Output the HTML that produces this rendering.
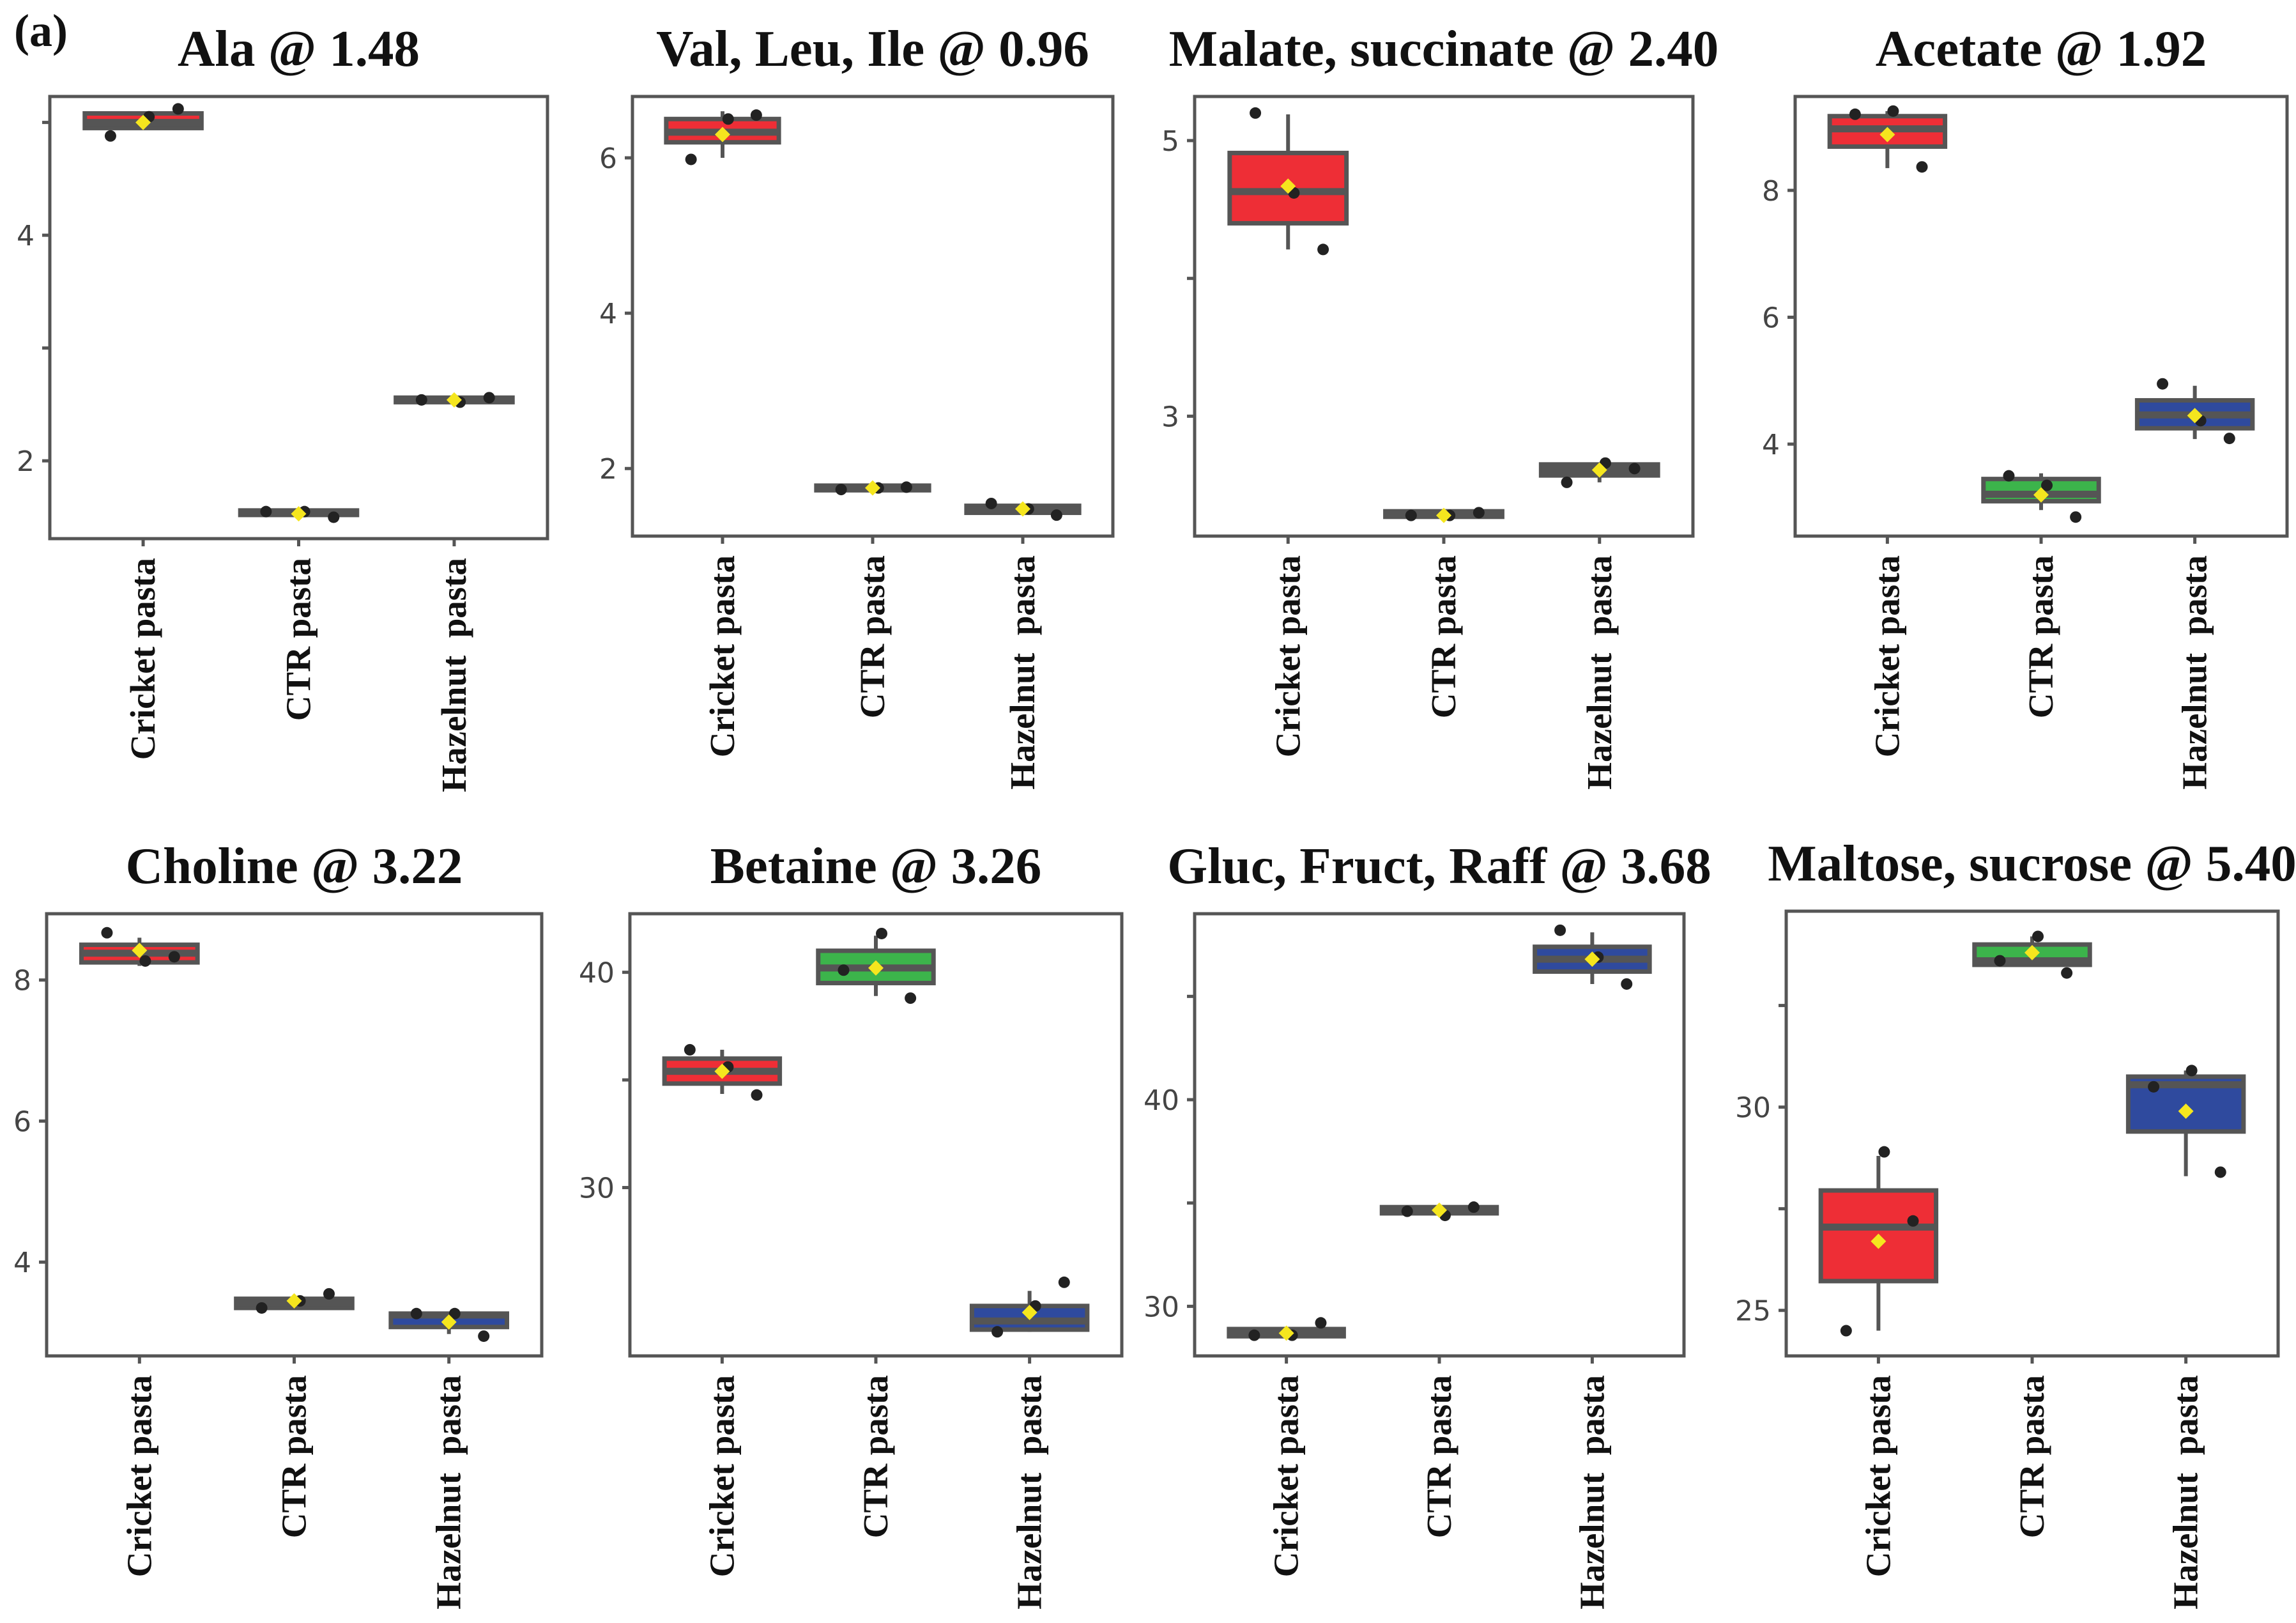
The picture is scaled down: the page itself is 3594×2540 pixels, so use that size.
<!DOCTYPE html>
<html><head><meta charset="utf-8"><style>
html,body{margin:0;padding:0;background:#fff;}
svg{display:block;}
</style></head><body>
<svg id="fig" xmlns="http://www.w3.org/2000/svg" width="3594" height="2540" viewBox="0 0 3594 2540">
<rect x="0" y="0" width="3594" height="2540" fill="#fff"/>
<text x="22" y="72" font-family="Liberation Serif, serif" font-weight="bold" font-size="72" fill="#111">(a)</text>
</svg>
<script>
const categories = ["Cricket pasta", "CTR pasta", "Hazelnut\u00a0 pasta"];
const titles = ["Ala @ 1.48","Val, Leu, Ile @ 0.96","Malate, succinate @ 2.40","Acetate @ 1.92","Choline @ 3.22","Betaine @ 3.26","Gluc, Fruct, Raff @ 3.68","Maltose, sucrose @ 5.40"];
const yDomains = [[1.31,5.23],[1.13,6.79],[2.13,5.32],[2.55,9.48],[2.67,8.94],[22.18,42.72],[27.6,49.0],[23.88,34.82]];
const tickValues = [[2,3,4,5],[2,4,6],[3,4,5],[4,6,8],[4,6,8],[30,35,40],[30,35,40,45],[25,27.5,30,32.5]];
const tickLabels = [["2","","4",""],["2","4","6"],["3","","5"],["4","6","8"],["4","6","8"],["30","","40"],["30","","40",""],["25","","30",""]];
// per panel, per category: [whiskerLow, q1, median, q3, whiskerHigh]
const boxStats = [
 [[4.95,4.95,5.0,5.08,5.08],[1.52,1.52,1.54,1.56,1.56],[2.52,2.52,2.54,2.56,2.56]],
 [[6.0,6.2,6.33,6.5,6.6],[1.72,1.72,1.75,1.78,1.78],[1.43,1.43,1.47,1.52,1.52]],
 [[4.21,4.40,4.63,4.91,5.19],[2.27,2.27,2.29,2.31,2.31],[2.52,2.57,2.61,2.65,2.65]],
 [[8.35,8.69,8.97,9.17,9.25],[2.96,3.10,3.21,3.45,3.54],[4.08,4.25,4.46,4.69,4.92]],
 [[8.2,8.25,8.38,8.5,8.6],[3.35,3.35,3.42,3.48,3.48],[2.98,3.08,3.25,3.27,3.27]],
 [[34.35,34.83,35.4,35.99,36.4],[38.9,39.5,40.2,41.0,41.7],[23.3,23.4,23.8,24.5,25.2]],
 [[28.55,28.55,28.7,28.9,28.9],[34.5,34.5,34.65,34.8,34.8],[45.6,46.2,46.8,47.4,48.1]],
 [[24.5,25.72,27.05,27.95,28.8],[33.5,33.5,33.6,34.0,34.2],[28.3,29.4,30.55,30.75,30.9]]
];
const meanValues = [
 [5.0,1.53,2.54],[6.3,1.75,1.48],[4.67,2.28,2.61],[8.88,3.2,4.45],
 [8.42,3.45,3.15],[35.4,40.2,24.2],[28.7,34.65,46.8],[26.7,33.8,29.9]
];
const pointValues = [
 [[4.88,5.05,5.12],[1.55,1.55,1.50],[2.54,2.52,2.56]],
 [[5.98,6.5,6.55],[1.73,1.75,1.76],[1.55,1.48,1.40]],
 [[5.2,4.62,4.21],[2.28,2.28,2.30],[2.52,2.66,2.62]],
 [[9.2,9.25,8.37],[3.5,3.35,2.85],[4.95,4.37,4.09]],
 [[8.67,8.27,8.33],[3.35,3.45,3.55],[3.27,3.27,2.95]],
 [[36.4,35.6,34.3],[40.1,41.8,38.8],[23.3,24.5,25.6]],
 [[28.6,28.6,29.2],[34.6,34.4,34.8],[48.2,46.9,45.6]],
 [[24.5,28.9,27.2],[33.6,34.2,33.3],[30.5,30.9,28.4]]
];
const fillColors = ["#ee2e36","#3cb44b","#2f4a9e"];
const panelFrames = [
 [78,151,857,843],[990,151,1742,839],[1870,151,2650,839],[2810,151,3580,839],
 [73,1430,848,2122],[986,1430,1756,2122],[1870,1430,2636,2122],[2796,1426,3566,2122]
];
const jitter = [-0.28,0.05,0.3];
const NS = "http://www.w3.org/2000/svg";
const svg = document.getElementById('fig');
function mk(tag, attrs, parent){ const e=document.createElementNS(NS,tag); for(const k in attrs) e.setAttribute(k,attrs[k]); (parent||svg).appendChild(e); return e; }
panelFrames.forEach((f,p)=>{
  const [x1,y1,x2,y2]=f;
  const g = mk('g',{});
  
  
  const [d0,d1]=yDomains[p];
  const ys = v => y2 - (v-d0)/(d1-d0)*(y2-y1);
  const xs = c => x1 + (c+1-0.4)/3.2*(x2-x1);
  const bw = 0.75/3.2*(x2-x1);
  const t = mk('text',{x:(x1+x2)/2, y:y1-48, 'text-anchor':'middle','font-family':'Liberation Serif, serif','font-weight':'bold','font-size':81,fill:'#111'},g);
  t.textContent = titles[p];
  
  
  tickValues[p].forEach((v,i)=>{
    const y=ys(v);
    const tm = mk('line',{x1:x1-12,x2:x1,y1:y,y2:y,stroke:'#555','stroke-width':5},g);
    
    
    if(tickLabels[p][i]){
      const tl = mk('text',{x:x1-24,y:y+16,'text-anchor':'end','font-family':'DejaVu Sans, Liberation Sans, sans-serif','font-size':44,fill:'#444'},g);
      tl.textContent = tickLabels[p][i];
      
      
    }
  });
  categories.forEach((cat,c)=>{
    const cx = xs(c);
    const xt = mk('line',{x1:cx,x2:cx,y1:y2,y2:y2+12,stroke:'#555','stroke-width':5},g);
    
    
    const lab = mk('text',{x:0,y:0,transform:`translate(${cx+18},${y2+30}) rotate(-90)`,'text-anchor':'end','font-family':'Liberation Serif, serif','font-weight':'bold','font-size':55,fill:'#111'},g);
    lab.textContent = cat;
    
    
    const s = boxStats[p][c];
    const wh = mk('line',{x1:cx,x2:cx,y1:ys(s[0]),y2:ys(s[4]),stroke:'#555','stroke-width':6},g);
    
    
    const bt = ys(s[3]), bb = ys(s[1]);
    const bx = mk('rect',{x:cx-bw/2,y:bt,width:bw,height:Math.max(bb-bt,1),fill:fillColors[c],stroke:'#555','stroke-width':7},g);
    
    
    const md = mk('line',{x1:cx-bw/2,x2:cx+bw/2,y1:ys(s[2]),y2:ys(s[2]),stroke:'#555','stroke-width':11},g);
    
    
    pointValues[p][c].forEach((v,i)=>{
      const pt = mk('circle',{cx:cx+jitter[i]*bw,cy:ys(v),r:9,fill:'#222'},g);
      
      
    });
    const my = ys(meanValues[p][c]), h=12;
    const dm = mk('polygon',{points:`${cx},${my-h} ${cx+h},${my} ${cx},${my+h} ${cx-h},${my}`,fill:'#f5e61e'},g);
    
    
  });
  const fr = mk('rect',{x:x1,y:y1,width:x2-x1,height:y2-y1,fill:'none',stroke:'#555','stroke-width':5},g);
  
  
});
</script>
</body></html>
